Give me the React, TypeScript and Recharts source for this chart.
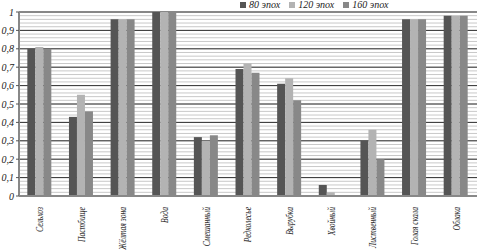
import React from 'react';
import { BarChart, Bar, XAxis, YAxis, ReferenceLine } from 'recharts';

const categories = [
  'Сельхоз', 'Пастбище', 'Жёлтая зона', 'Вода', 'Смешанный', 'Редколесье',
  'Вырубка', 'Хвойный', 'Лиственный', 'Голая скала', 'Облака',
];
const epochs80 = [0.80, 0.43, 0.96, 1.0, 0.32, 0.69, 0.61, 0.06, 0.30, 0.96, 0.98];
const epochs120 = [0.81, 0.55, 0.96, 1.0, 0.30, 0.72, 0.64, 0.02, 0.36, 0.96, 0.98];
const epochs160 = [0.80, 0.46, 0.96, 1.0, 0.33, 0.67, 0.52, 0.0, 0.20, 0.96, 0.98];

const majorTicks = [0, 0.1, 0.2, 0.3, 0.4, 0.5, 0.6, 0.7, 0.8, 0.9, 1];
// light grid every 0.02
const minorTicks = Array.from({ length: 51 }, (_, i) => +(i * 0.02).toFixed(2));

const series = [
  { key: 'e80', name: '80 эпох', color: '#555555' },
  { key: 'e120', name: '120 эпох', color: '#b3b3b3' },
  { key: 'e160', name: '160 эпох', color: '#888888' },
];

const data = categories.map((c, i) => ({
  name: c,
  e80: epochs80[i],
  e120: epochs120[i],
  e160: epochs160[i],
}));

const font = '"Liberation Serif", "DejaVu Serif", serif';
const W = 477;
const H = 251;
const margin = { top: 12, right: 0, bottom: 0, left: 0 };

const fmt = (v: number) => (v === 0 || v === 1 ? String(v) : String(v).replace('.', ','));

function CatTick({ x, y, payload }: any) {
  return (
    <text
      transform={`translate(${x}, ${y + 3}) rotate(-90) scale(0.76, 1)`}
      textAnchor="end"
      dominantBaseline="central"
      fontFamily={font}
      fontStyle="italic"
      fontSize={10}
      fill="#222"
    >
      {payload.value}
    </text>
  );
}

function LegendBox() {
  return (
    <div
      style={{
        position: 'absolute', left: 240, top: -1, display: 'flex', gap: 9,
        fontFamily: font, fontStyle: 'italic', fontSize: 10, color: '#222',
      }}
    >
      {series.map((s) => (
        <span key={s.key} style={{ display: 'flex', alignItems: 'center', gap: 3 }}>
          <span style={{ width: 6, height: 6, background: s.color, display: 'inline-block' }} />
          {s.name}
        </span>
      ))}
    </div>
  );
}

// grid lines live in a chart underneath, so the real bars cover them
function GridLayer() {
  return (
    <div style={{ position: 'absolute', left: 0, top: 0 }}>
      <BarChart width={W} height={H} data={data} margin={margin} barCategoryGap="20%" barGap={0}>
        <XAxis dataKey="name" interval={0} height={55} tick={false} tickLine={false} axisLine={false} />
        <YAxis width={19} domain={[0, 1]} ticks={majorTicks} tick={false} tickLine={false} axisLine={false} />
        {series.map((s) => (
          <Bar key={s.key} dataKey={s.key} fill="transparent" isAnimationActive={false} />
        ))}
        {minorTicks.map((v) => (
          <ReferenceLine key={'mn' + v} y={v} stroke="#c8c8c8" strokeWidth={1} />
        ))}
        {majorTicks.slice(1, -1).map((v) => (
          <ReferenceLine key={'mj' + v} y={v} stroke="#333" strokeWidth={1} />
        ))}
        <ReferenceLine y={1} stroke="#888" strokeWidth={2} />
      </BarChart>
    </div>
  );
}

export default function App() {
  return (
    <div style={{ position: 'absolute', left: 0, top: 0, width: W, height: H, background: '#fff' }}>
      <GridLayer />
      <div style={{ position: 'absolute', left: 0, top: 0 }}>
        <BarChart width={W} height={H} data={data} margin={margin} barCategoryGap="20%" barGap={0}>
          <XAxis
            dataKey="name"
            interval={0}
            height={55}
            tick={<CatTick />}
            tickLine={false}
            axisLine={{ stroke: '#888', strokeWidth: 2 }}
          />
          <YAxis
            width={19}
            domain={[0, 1]}
            ticks={majorTicks}
            tickFormatter={fmt}
            tickSize={3}
            tickLine={{ stroke: '#555' }}
            axisLine={{ stroke: '#888', strokeWidth: 2 }}
            tick={{ fontFamily: font, fontStyle: 'italic', fontSize: 10, fill: '#222' }}
          />
          {series.map((s) => (
            <Bar key={s.key} dataKey={s.key} name={s.name} fill={s.color} isAnimationActive={false} />
          ))}
        </BarChart>
      </div>
      <LegendBox />
    </div>
  );
}
